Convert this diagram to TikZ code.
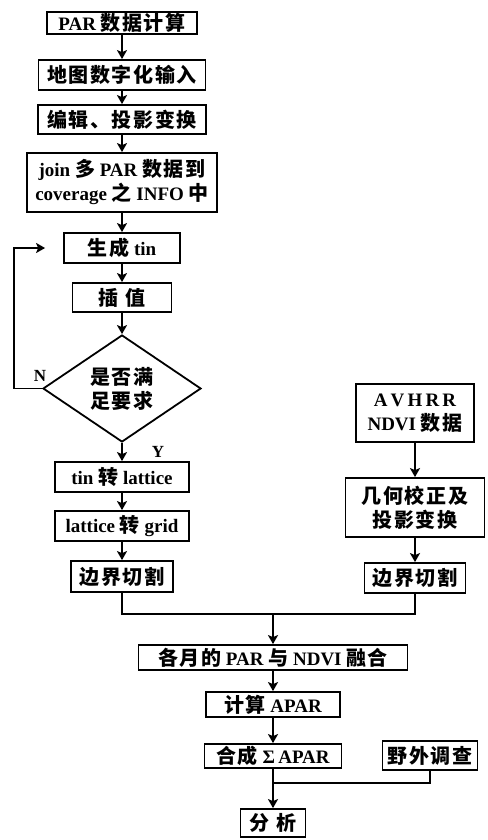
\documentclass[tikz,border=0pt]{standalone}
\usepackage{fontspec}
\setmainfont{Liberation Serif}
\newfontfamily\cjk{Noto Sans CJK SC}[LetterSpace=8]
\newcommand\zh[1]{{\cjk\bfseries\fontsize{20}{24}\selectfont #1}}
\usetikzlibrary{shapes.geometric,arrows.meta}
\begin{document}
\begin{tikzpicture}[x=1pt,y=-1pt,line join=miter,
	box/.style={draw,line width=1.8pt,inner sep=0pt,align=center,font=\fontsize{19}{24}\selectfont\bfseries},
	dec/.style={box,shape=diamond},
	arr/.style={line width=1.8pt,-{Stealth[length=9pt,width=10pt,inset=2pt]}},
	lnk/.style={line width=1.6pt}]
	\useasboundingbox (0,0) rectangle (487,840);
	% left column
	\node[box,minimum width=150pt,minimum height=22pt] (par) at (122,23) {PAR \zh{数据计算}};
	\node[box,minimum width=167pt,minimum height=30pt] (dig) at (122,75) {\zh{地图数字化输入}};
	\node[box,minimum width=168pt,minimum height=29pt] (edit) at (122,119.5) {\zh{编辑、投影变换}};
	\node[box,minimum width=190pt,minimum height=59pt] (join) at (122,182.5) {join \zh{多} PAR \zh{数据到}\\coverage \zh{之} INFO \zh{中}};
	\node[box,minimum width=116pt,minimum height=30pt] (tin) at (122,248) {\zh{生成} tin};
	\node[box,minimum width=99pt,minimum height=29pt] (itp) at (122,297.5) {\zh{插\,\,值}};
	\node[dec,minimum width=158pt,minimum height=107pt] (ok) at (122,388.5) {\zh{是否满}\\\zh{足要求}};
	\node[box,minimum width=134pt,minimum height=30pt] (lat) at (122,477) {tin \zh{转} lattice};
	\node[box,minimum width=134pt,minimum height=30pt] (grd) at (122,526) {lattice \zh{转} grid};
	\node[box,minimum width=102pt,minimum height=31pt] (cutl) at (122,576.5) {\zh{边界切割}};
	% right column
	\node[box,minimum width=118pt,minimum height=58pt] (avh) at (415,413) {A\,V\,H\,R\,R\\NDVI \zh{数据}};
	\node[box,minimum width=139pt,minimum height=59pt] (geo) at (415,507.5) {\zh{几何校正及}\\\zh{投影变换}};
	\node[box,minimum width=101pt,minimum height=30pt] (cutr) at (415,578) {\zh{边界切割}};
	% bottom
	\node[box,minimum width=269pt,minimum height=25pt] (fus) at (273,657.5) {\zh{各月的} PAR \zh{与} NDVI \zh{融合}};
	\node[box,minimum width=134pt,minimum height=25pt] (apar) at (273,704.5) {\zh{计算} APAR};
	\node[box,minimum width=137pt,minimum height=24pt] (sum) at (273,756) {\zh{合成} Σ\,APAR};
	\node[box,minimum width=95pt,minimum height=29pt] (fld) at (430,755.5) {\zh{野外调查}};
	\node[box,minimum width=65pt,minimum height=28pt] (ana) at (273,823) {\zh{分\,\,析}};
	\coordinate (back) at (14,388.5);
	\coordinate (mj) at (273,614);
	\coordinate (fj) at (273,783);
	\foreach \a/\b in {par/dig,dig/edit,edit/join,join/tin,tin/itp,itp/ok,ok/lat,lat/grd,grd/cutl,avh/geo,geo/cutr,fus/apar,apar/sum}
		\draw[arr] (\a) -- (\b);
	\draw[arr] (ok.west) -- (back) |- (tin.west) [shorten >=18pt];
	\node[font=\fontsize{17}{20}\selectfont\bfseries] (n) at (40,376) {N};
	\node[font=\fontsize{17}{20}\selectfont\bfseries] (y) at (158,452) {Y};
	\draw[lnk] (cutl) |- (mj) -| (cutr);
	\draw[arr] (mj) -- (fus);
	\draw[lnk] (fld) |- (fj);
	\draw[arr] (sum) -- (ana);
\end{tikzpicture}
\end{document}
